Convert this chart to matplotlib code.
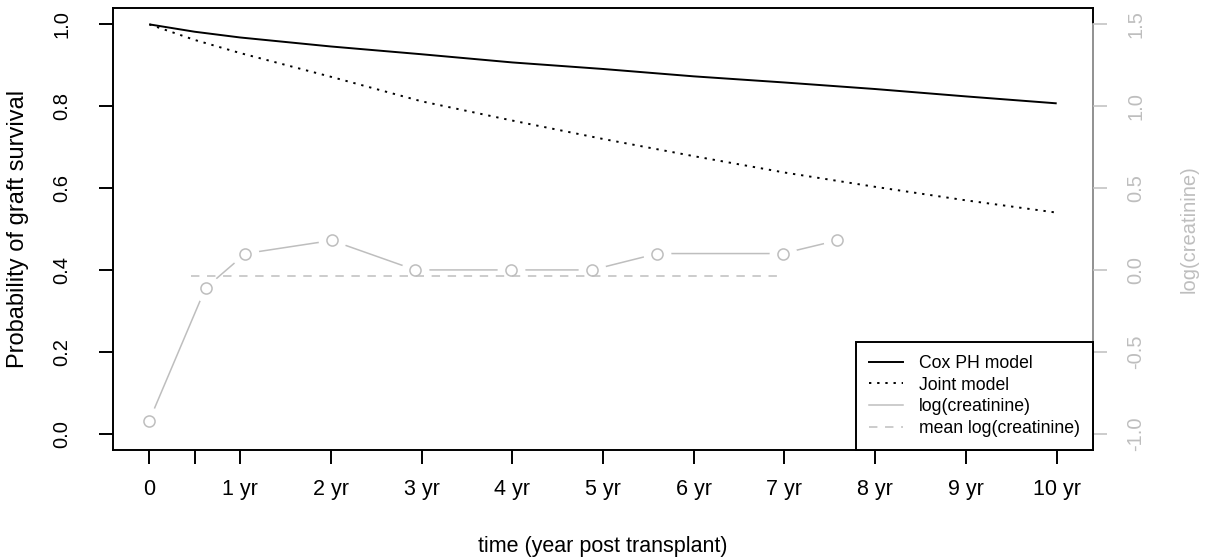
import numpy as np
import matplotlib
matplotlib.use("Agg")
import matplotlib.pyplot as plt
from matplotlib.lines import Line2D

plt.rcParams['font.family'] = ['Liberation Sans', 'DejaVu Sans']

# survival curves
years = [0, 0.5, 1, 2, 3, 4, 5, 6, 7, 8, 9, 10]
cox_surv = [1.0, 0.982, 0.968, 0.946, 0.927, 0.907, 0.891, 0.873, 0.858, 0.842, 0.824, 0.807]
joint_surv = [1.0, 0.962, 0.930, 0.872, 0.812, 0.765, 0.720, 0.678, 0.638, 0.603, 0.570, 0.540]

# creatinine measurements (right axis)
creat_time = [0.0, 0.62, 1.06, 2.01, 2.93, 3.99, 4.88, 5.60, 6.98, 7.58]
log_creat = [-0.92, -0.11, 0.10, 0.18, 0.0, 0.0, 0.0, 0.10, 0.10, 0.18]
mean_span = [0.46, 6.98]
mean_log_creat = -0.04

xtick_pos = [0, 0.5, 1, 2, 3, 4, 5, 6, 7, 8, 9, 10]
xtick_lab = ["0", "", "1 yr", "2 yr", "3 yr", "4 yr", "5 yr", "6 yr", "7 yr", "8 yr", "9 yr", "10 yr"]
left_ticks = [0.0, 0.2, 0.4, 0.6, 0.8, 1.0]
right_ticks = [-1.0, -0.5, 0.0, 0.5, 1.0, 1.5]

GRAY = "#BEBEBE"
FS = 15.5      # horizontal text
FS_ROT = 14.5  # rotated tick labels

fig = plt.figure(figsize=(12.06, 5.59), dpi=100)
ax = fig.add_axes([113/1206, 1 - 450/559, 980/1206, 442/559])
ax2 = ax.twinx()

ax.plot(years, cox_surv, color="black", lw=1.4, solid_capstyle="butt")
ax.plot(years, joint_surv, color="black", lw=1.4, dashes=(1.2, 3))

ax.set_xlim(-0.4, 10.4)
ax.set_ylim(-0.04, 1.04)
ax.set_xticks(xtick_pos)
ax.set_xticklabels(xtick_lab)
ax.set_yticks(left_ticks)
ax.set_yticklabels([f"{v:.1f}" for v in left_ticks], rotation=90, va="center")
ax.tick_params(axis="x", length=10, width=1.4, pad=11, labelsize=FS)
ax.tick_params(axis="y", length=10, width=1.4, pad=20, labelsize=FS_ROT)
for s in ax.spines.values():
    s.set_linewidth(1.4)

# creatinine trajectory, R type="b" look: line broken around the points
ax2.plot(creat_time, log_creat, color=GRAY, lw=1.1, zorder=2)
ax2.plot(creat_time, log_creat, ls="none", marker="o", ms=19,
         mfc="white", mec="white", zorder=3)
ax2.plot(mean_span, [mean_log_creat, mean_log_creat], color=GRAY, lw=1.1,
         dashes=(5.5, 5), zorder=4)
ax2.plot(creat_time, log_creat, ls="none", marker="o", ms=8,
         mfc="none", mec=GRAY, mew=1.1, zorder=5)

ax2.set_ylim(-1.1, 1.6)
ax2.set_yticks(right_ticks)
ax2.set_yticklabels([f"{v:.1f}" for v in right_ticks], rotation=90, va="center")
ax2.tick_params(axis="y", length=10, width=1.1, pad=14, labelsize=FS_ROT,
                color=GRAY, labelcolor=GRAY)
for k in ["top", "bottom", "left"]:
    ax2.spines[k].set_visible(False)
ax2.spines["right"].set_color(GRAY)
ax2.spines["right"].set_linewidth(1.1)
ax2.spines["right"].set_bounds(-1.0, 1.5)

ax.set_xlabel("time (year post transplant)", fontsize=FS)
ax.xaxis.set_label_coords(0.5, -0.195)
ax.set_ylabel("Probability of graft survival", fontsize=17)
ax.yaxis.set_label_coords(-0.0855, 0.5)
ax2.set_ylabel("log(creatinine)", fontsize=14.5, color=GRAY)
ax2.yaxis.set_label_coords(1.088, 0.5)

handles = [
    Line2D([], [], color="black", lw=1.4),
    Line2D([], [], color="black", lw=1.4, dashes=(1.2, 3)),
    Line2D([], [], color=GRAY, lw=1.1),
    Line2D([], [], color=GRAY, lw=1.1, dashes=(5.5, 5)),
]
labels = ["Cox PH model", "Joint model", "log(creatinine)", "mean log(creatinine)"]
leg = ax2.legend(handles, labels, loc="lower right", borderaxespad=0,
                 fontsize=12.7, fancybox=False, framealpha=1, edgecolor="black",
                 handlelength=1.9, handletextpad=0.9, labelspacing=0.26,
                 borderpad=0.75)
leg.get_frame().set_linewidth(1.4)

fig.savefig("out.png", dpi=100)
